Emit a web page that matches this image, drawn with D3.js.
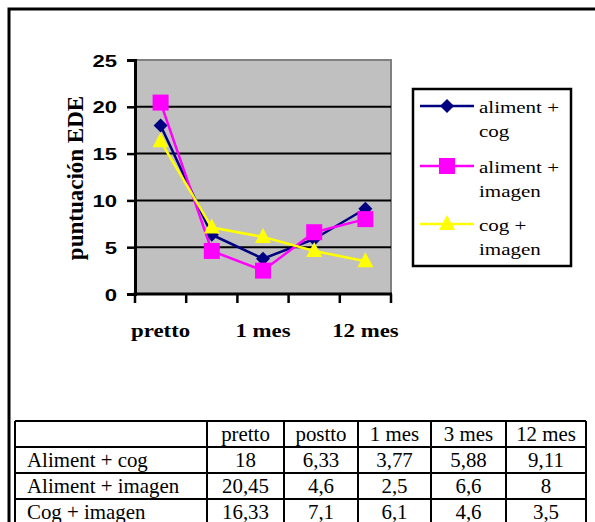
<!DOCTYPE html>
<html>
<head>
<meta charset="utf-8">
<script src="https://cdn.jsdelivr.net/npm/d3@7"></script>
<style>
  html, body { margin: 0; padding: 0; background: #fff; }
  svg { display: block; }
  .serif { font-family: "Times New Roman", "Liberation Serif", "DejaVu Serif", serif; }
  .sans { font-family: Arial, "Liberation Sans", "DejaVu Sans", sans-serif; }
</style>
</head>
<body>
<svg id="chart" width="595" height="522"></svg>
<script>
// EDE scores by follow-up point for each treatment group
const categories = ["pretto", "postto", "1 mes", "3 mes", "12 mes"];
const seriesNames = ["aliment + cog", "aliment + imagen", "cog + imagen"];
const rowLabels = ["Aliment + cog", "Aliment + imagen", "Cog + imagen"];
const alimentCog = [18, 6.33, 3.77, 5.88, 9.11];
const alimentImagen = [20.45, 4.6, 2.5, 6.6, 8];
const cogImagen = [16.33, 7.1, 6.1, 4.6, 3.5];
const yTicks = [0, 5, 10, 15, 20, 25];
const xLabelsShown = ["pretto", "1 mes", "12 mes"];

const series = [
  { name: seriesNames[0], row: rowLabels[0], values: alimentCog, color: "#000080", marker: "diamond" },
  { name: seriesNames[1], row: rowLabels[1], values: alimentImagen, color: "#FF00FF", marker: "square" },
  { name: seriesNames[2], row: rowLabels[2], values: cogImagen, color: "#FFFF00", marker: "triangle" }
];

const svg = d3.select("#chart");

// horizontally widened text (the chart's type is set wide)
function wideText(parent, tx, ty, sx, str) {
  return parent.append("text")
    .attr("transform", `translate(${tx},${ty}) scale(${sx},1)`)
    .attr("x", 0).attr("y", 0)
    .text(str);
}

// outer frame (continues past the right and bottom edges)
svg.append("path")
  .attr("d", "M9,530 L9,9 L600,9")
  .attr("fill", "none").attr("stroke", "#000").attr("stroke-width", 3);

// plot area
const plot = { left: 135, right: 391, top: 60, bottom: 294 };
const x = d3.scaleBand().domain(categories).range([plot.left, plot.right]);
const y = d3.scaleLinear().domain([0, 25]).range([plot.bottom, plot.top]);

svg.append("rect")
  .attr("x", plot.left).attr("y", plot.top)
  .attr("width", plot.right - plot.left).attr("height", plot.bottom - plot.top)
  .attr("fill", "#C0C0C0");
// grey top/right border of the plot area
svg.append("path")
  .attr("d", `M${plot.left},${plot.top} L${plot.right},${plot.top} L${plot.right},${plot.bottom}`)
  .attr("fill", "none").attr("stroke", "#808080").attr("stroke-width", 2);

// horizontal gridlines
svg.append("g").selectAll("line")
  .data(yTicks.filter(t => t > 0 && t < 25))
  .join("line")
  .attr("x1", plot.left).attr("x2", plot.right)
  .attr("y1", d => y(d)).attr("y2", d => y(d))
  .attr("stroke", "#000").attr("stroke-width", 2);

// y axis
const yAxis = svg.append("g")
  .attr("transform", `translate(${plot.left},0)`)
  .call(d3.axisLeft(y).tickValues(yTicks).tickSize(8).tickPadding(10).tickFormat(d3.format("d")));
yAxis.attr("font-family", null).attr("font-size", null);
yAxis.select(".domain").attr("stroke", "#000").attr("stroke-width", 3);
yAxis.selectAll(".tick line").attr("stroke", "#000").attr("stroke-width", 2.5);
yAxis.selectAll(".tick text")
  .attr("class", "sans")
  .attr("x", 0).attr("dy", "0.36em")
  .attr("transform", "translate(-18,0) scale(1.3,1)")
  .attr("font-weight", "bold").attr("font-size", 17).attr("fill", "#000");

// x axis with boundary tick marks between categories
const xAxisG = svg.append("g");
xAxisG.append("line")
  .attr("x1", plot.left - 1.5).attr("x2", plot.right + 1)
  .attr("y1", plot.bottom).attr("y2", plot.bottom)
  .attr("stroke", "#000").attr("stroke-width", 3);
const boundaries = categories.map(c => x(c)).concat([x(categories[categories.length - 1]) + x.bandwidth()]);
xAxisG.selectAll("line.tick")
  .data(boundaries)
  .join("line").attr("class", "tick")
  .attr("x1", d => d).attr("x2", d => d)
  .attr("y1", plot.bottom).attr("y2", plot.bottom + 9)
  .attr("stroke", "#000").attr("stroke-width", 2.5);
xLabelsShown.forEach(lbl => {
  wideText(xAxisG, x(lbl) + x.bandwidth() / 2, 337, 1.17, lbl)
    .attr("class", "serif")
    .attr("text-anchor", "middle")
    .attr("font-weight", "bold").attr("font-size", 19.5);
});

// y axis title
svg.append("text")
  .attr("class", "serif")
  .attr("transform", "translate(83,178) rotate(-90)")
  .attr("text-anchor", "middle")
  .attr("font-weight", "bold").attr("font-size", 23)
  .text("puntuación EDE");

// marker shapes
function markerPath(type) {
  if (type === "diamond") return d3.symbol(d3.symbolDiamond2, 125)();
  if (type === "square") return "M-8,-8H8V8H-8Z";
  return "M0,-9L8,6H-8Z";
}

const lineGen = d3.line()
  .x((d, i) => x(categories[i]) + x.bandwidth() / 2)
  .y(d => y(d));

const seriesG = svg.append("g").selectAll("g").data(series).join("g");
seriesG.append("path")
  .attr("d", d => lineGen(d.values))
  .attr("fill", "none").attr("stroke", d => d.color).attr("stroke-width", 2.5)
  .attr("stroke-linejoin", "round");
seriesG.each(function (s) {
  d3.select(this).selectAll("path.m")
    .data(s.values)
    .join("path").attr("class", "m")
    .attr("transform", (d, i) => `translate(${x(categories[i]) + x.bandwidth() / 2},${y(d)})`)
    .attr("d", markerPath(s.marker))
    .attr("fill", s.color);
});

// legend
const legend = svg.append("g");
legend.append("rect")
  .attr("x", 413).attr("y", 89).attr("width", 158).attr("height", 177)
  .attr("fill", "#fff").attr("stroke", "#000").attr("stroke-width", 2.5);
const legendY = [106, 166, 224];
series.forEach((s, i) => {
  const g = legend.append("g").attr("transform", `translate(0,${legendY[i]})`);
  g.append("line").attr("x1", 420).attr("x2", 474).attr("y1", 0).attr("y2", 0)
    .attr("stroke", s.color).attr("stroke-width", 2.5);
  g.append("path").attr("transform", "translate(447,0)").attr("d", markerPath(s.marker)).attr("fill", s.color);
  const parts = s.name.split(" + ");
  [parts[0] + " +", parts[1]].forEach((line, j) => {
    wideText(g, 479, j === 0 ? 7 : 31, 1.2, line)
      .attr("class", "serif").attr("font-size", 17.5).attr("fill", "#000");
  });
});

// data table
const colEdges = [15, 207, 284, 358, 431, 506, 586];
const rowEdges = [421, 447, 473, 499, 525];
const table = svg.append("g");
const tableRows = [[""].concat(categories)].concat(
  series.map(s => [s.row].concat(s.values.map(v => String(v).replace(".", ","))))
);
tableRows.forEach((row, r) => {
  row.forEach((cell, c) => {
    const first = c === 0;
    wideText(table, first ? colEdges[0] + 12 : (colEdges[c] + colEdges[c + 1]) / 2, rowEdges[r] + 20, 1.045, cell)
      .attr("class", "serif")
      .attr("text-anchor", first ? "start" : "middle")
      .attr("font-size", 20).attr("fill", "#000");
  });
});
table.selectAll("line.h")
  .data(rowEdges.slice(0, 4))
  .join("line").attr("class", "h")
  .attr("x1", colEdges[0]).attr("x2", colEdges[colEdges.length - 1])
  .attr("y1", d => d).attr("y2", d => d)
  .attr("stroke", "#000").attr("stroke-width", 2);
table.selectAll("line.v")
  .data(colEdges)
  .join("line").attr("class", "v")
  .attr("x1", d => d).attr("x2", d => d)
  .attr("y1", rowEdges[0]).attr("y2", 530)
  .attr("stroke", "#000").attr("stroke-width", 2);
</script>
</body>
</html>
